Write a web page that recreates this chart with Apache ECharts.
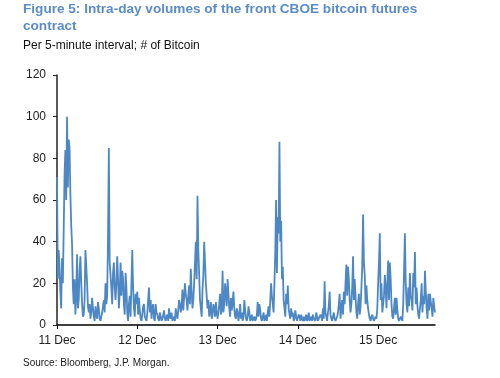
<!DOCTYPE html>
<html>
<head>
<meta charset="utf-8">
<script src="https://cdn.jsdelivr.net/npm/echarts@6/dist/echarts.min.js"></script>
<style>html,body{margin:0;padding:0;background:#fff}#c{width:500px;height:378px}</style>
</head>
<body>
<div id="c"></div>
<script>
// Tick labels for each day (x value = days since 11 Dec, step of 15 minutes)
var dayLabels = ['11 Dec', '12 Dec', '13 Dec', '14 Dec', '15 Dec'];
var yTicks = [0, 20, 40, 60, 80, 100, 120];
var stepsPerDay = 96;
// Volumes (# of Bitcoin)
var dec11 = [71,22, 36,28, 16,8, 32,20, 45,72, 84,60, 100,66, 89,85, 63,48, 39,18, 10,22, 5,14, 34,8, 12,26, 33,20, 10,4,
             5,12, 36,28, 20,9, 6,10, 3,6, 13,8, 4,2, 9,5, 3,11, 8,3, 2,4, 6,9, 12,6, 20,10, 14,42, 85,30,
             24,18, 10,25, 30,18, 12,20, 33,22, 8,16, 30,14, 26,22, 10,5, 25,18, 6,2, 10,14, 4,20, 36,18, 8,4, 15,10];
var dec12 = [16,5, 13,7, 3,2, 5,9, 10,4, 3,2, 6,12, 18,6, 12,3, 8,10, 3,2, 10,6, 5,3, 2,6, 4,2,
             3,5, 7,3, 2,4, 5,2, 8,4, 3,6, 2,3, 4,2, 8,5, 3,7, 12,10, 6,9, 17,7, 13,20, 15,12,
             7,14, 19,10, 27,16, 8,12, 20,30, 40,22, 62,36, 24,12, 8,4, 17,24, 40,30, 20,14, 8,12, 4,7, 11,3, 5,10, 8,4, 11,6];
var dec13 = [3,6, 10,15, 5,8, 26,6, 10,20, 14,9, 22,15, 8,4, 13,7, 11,16, 8,4, 3,8, 6,2, 5,10, 3,6,
             2,4, 12,7, 3,2, 4,9, 6,2, 3,5, 2,3, 4,2, 3,5, 11,4, 10,7, 3,2, 4,6, 2,3, 5,2,
             6,9, 4,12, 20,14, 10,6, 20,35, 60,25, 52,44, 88,40, 50,22, 28,12, 8,4, 15,10, 19,8, 5,3, 8,4, 6,2, 3,7, 4,2];
var dec14 = [2,5, 4,2, 5,3, 2,4, 2,3, 5,2, 3,6, 2,3, 4,2, 5,3, 3,2, 6,4, 2,3, 3,5, 4,2,
             8,3, 21,6, 4,2, 6,9, 16,5, 3,2, 4,6, 3,2, 2,4, 6,10, 15,3, 3,12, 5,16, 10,20, 29,14,
             28,22, 12,6, 10,18, 33,12, 22,14, 6,3, 10,15, 5,9, 18,28, 53,30, 24,10, 19,12, 8,5, 3,2, 4,5, 3,2, 2,4, 3,8];
var dec15 = [20,30, 44,12, 20,6, 10,14, 24,18, 8,20, 31,12, 30,22, 10,4, 3,8, 13,5, 13,7, 3,2, 2,4, 3,2,
             10,26, 44,20, 10,6, 18,9, 25,14, 12,7, 25,18, 35,10, 18,9, 5,3, 8,12, 20,6, 14,10, 26,16,
             8,3, 15,7, 15,11, 8,4, 13,9, 6];

var all = [].concat(dec11, dec12, dec13, dec14, dec15);
var seriesData = all.map(function (v, i) { return [i / stepsPerDay, v]; });

var font = 'Liberation Sans, Arial, sans-serif';
var chart = echarts.init(document.getElementById('c'), null, {renderer: 'canvas'});
chart.setOption({
  animation: false,
  backgroundColor: '#fff',
  title: [
    {
      text: 'Figure 5: Intra-day volumes of the front CBOE bitcoin futures\ncontract',
      left: 23, top: 1, padding: 0,
      textStyle: {fontFamily: font, fontSize: 13.6, fontWeight: 'bold', color: '#5b8cc6', lineHeight: 17}
    },
    {
      text: 'Per 5-minute interval; # of Bitcoin',
      left: 23, top: 40, padding: 0,
      textStyle: {fontFamily: font, fontSize: 12, fontWeight: 'normal', color: '#111'}
    },
    {
      text: 'Source: Bloomberg, J.P. Morgan.',
      left: 23, top: 358, padding: 0,
      textStyle: {fontFamily: font, fontSize: 10, fontWeight: 'normal', color: '#222'}
    }
  ],
  grid: {left: 57, right: 65, top: 75, bottom: 53, containLabel: false},
  xAxis: {
    type: 'value',
    min: 0,
    max: 'dataMax',
    interval: 1,
    axisLine: {show: true, onZero: false, lineStyle: {color: '#000', width: 1.5}},
    axisTick: {show: true, inside: false, length: 4, lineStyle: {color: '#000'}},
    splitLine: {show: false},
    axisLabel: {
      margin: 10, fontFamily: font, fontSize: 12, color: '#222',
      showMaxLabel: false,
      formatter: function (v) { return (Math.abs(v - Math.round(v)) < 1e-6 && dayLabels[Math.round(v)]) || ''; }
    }
  },
  yAxis: {
    type: 'value',
    min: yTicks[0],
    max: yTicks[yTicks.length - 1],
    interval: 20,
    axisLine: {show: true, lineStyle: {color: '#222', width: 1.5}},
    axisTick: {show: true, inside: false, length: 4, lineStyle: {color: '#222'}},
    splitLine: {show: false},
    axisLabel: {margin: 11, fontFamily: font, fontSize: 12, color: '#222'}
  },
  series: [{
    type: 'line',
    data: seriesData,
    showSymbol: false,
    symbol: 'none',
    lineStyle: {color: '#4e88c4', width: 1.8},
    z: 1
  }]
});
</script>
</body>
</html>
